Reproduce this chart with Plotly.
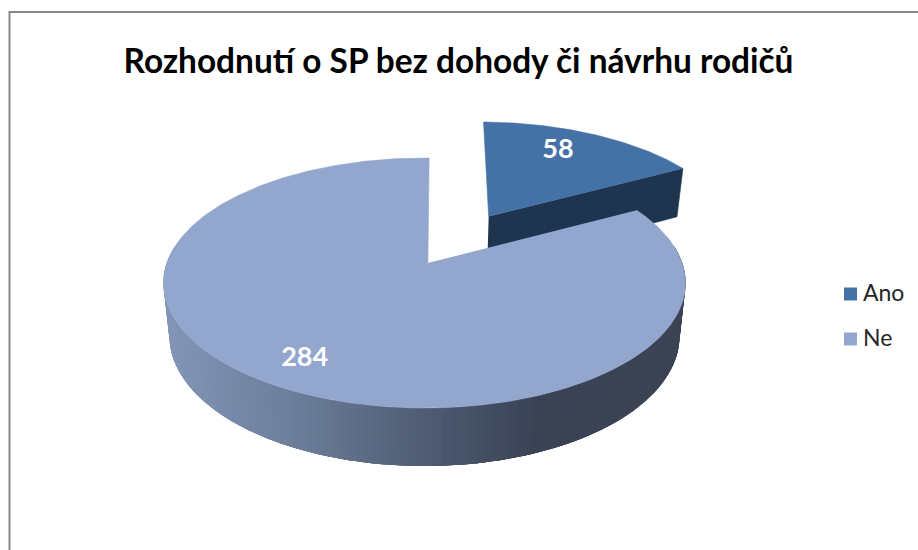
import numpy as np
import plotly.graph_objects as go

categories = ["Ano", "Ne"]
values = [58, 284]
title_text = "Rozhodnutí o SP bez dohody či návrhu rodičů"
top_colors = ["#4471A6", "#93A7CE"]
ano_side_color = "#1F344F"
side_stops_x = [165, 300, 450, 540, 690]
side_stops_rgb = [(130, 150, 183), (107, 125, 153), (74, 86, 108), (58, 67, 85), (60, 68, 86)]

W, H = 918, 550
K = 0.16
TOP = dict(cx=424.5, cy=283.0, a=261.0, b=125.0)
BOT = dict(cx=424.5, cy=336.0, a=255.0, b=130.0)
APEX_SHIFT = 0.005
EXPLODE = 0.495
START_DEG = 88.8


def project(u, v, lv):
    u, v = np.asarray(u, float), np.asarray(v, float)
    den = 1 + K * v
    return lv["cx"] + lv["a"] * u * np.sqrt(1 - K * K) / den, lv["cy"] - lv["b"] * (v + K) / den


total = sum(values)
sweep = [360.0 * x / total for x in values]
# Ano runs clockwise from the start angle, Ne takes the remainder.
ano_a = np.radians(np.linspace(START_DEG, START_DEG - sweep[0], 120))
ne_a = np.radians(np.linspace(START_DEG, START_DEG + sweep[1], 500))
ano_mid = np.radians(START_DEG - sweep[0] / 2)
ne_mid = np.radians(START_DEG + sweep[1] / 2)
ox, oy = EXPLODE * np.cos(ano_mid), EXPLODE * np.sin(ano_mid)

fig = go.Figure()


def poly(x, y, color, name=None, lw=0.6):
    fig.add_trace(go.Scatter(x=x, y=y, mode="lines", fill="toself", fillcolor=color,
                             line=dict(color=color, width=lw), hoverinfo="skip",
                             name=name or "", showlegend=False))


# Ano: cut face
ax0, ay0 = project([ox + APEX_SHIFT], [oy - 0.015], TOP)
ax1, ay1 = project([ox + np.cos(ano_a[-1])], [oy + np.sin(ano_a[-1])], TOP)
bx0, by0 = project([ox + APEX_SHIFT], [oy - 0.015], BOT)
bx1, by1 = project([ox + np.cos(ano_a[-1])], [oy + np.sin(ano_a[-1])], BOT)
poly(list(ax0) + list(ax1) + list(bx1) + list(bx0), list(ay0) + list(ay1) + list(by1) + list(by0), ano_side_color)

# Ano: top
rx, ry = project(ox + np.cos(ano_a), oy + np.sin(ano_a), TOP)
poly(list(ax0) + list(rx), list(ay0) + list(ry), top_colors[0], categories[0])

# Ne: gradient rim; each quad reaches far past the next one, so that no seams show
rim = np.radians(np.linspace(172, 368, 121))
tx, ty = project(np.cos(rim), np.sin(rim), TOP)
ux, uy = project(np.cos(rim), np.sin(rim), BOT)
for i in range(len(rim) - 1):
    j = min(i + 4, len(rim) - 1)
    xm = (tx[i] + tx[i + 1]) / 2
    c = [int(np.interp(xm, side_stops_x, [s[n] for s in side_stops_rgb])) for n in range(3)]
    fig.add_trace(go.Scatter(x=list(tx[i:j + 1]) + list(ux[i:j + 1][::-1]),
                             y=list(ty[i:j + 1]) + list(uy[i:j + 1][::-1]),
                             mode="none", fill="toself", fillcolor=f"rgb({c[0]},{c[1]},{c[2]})",
                             hoverinfo="skip", showlegend=False))

# Ne: top
nx, ny = project(np.cos(ne_a), np.sin(ne_a), TOP)
cx0, cy0 = project([0.013], [0.0], TOP)
poly(list(cx0) + list(nx), list(cy0) + list(ny), top_colors[1], categories[1])

# Value labels
l1x, l1y = project([ox + 0.66 * np.cos(ano_mid)], [oy + 0.77 * np.sin(ano_mid)], TOP)
l2x, l2y = project([0.785 * np.cos(ne_mid)], [0.825 * np.sin(ne_mid)], TOP)
fig.add_trace(go.Scatter(x=[l1x[0], l2x[0]], y=[l1y[0], l2y[0]], mode="text",
                         text=[str(v) for v in values], hoverinfo="skip", showlegend=False,
                         textfont=dict(family="Lato", size=27, color="white", weight="bold")))

# Legend
for name, color, ly in zip(categories, top_colors, [294, 339]):
    fig.add_trace(go.Scatter(x=[850.5], y=[ly], mode="markers", showlegend=False, hoverinfo="skip",
                             marker=dict(symbol="square", size=13, color=color)))
    fig.add_trace(go.Scatter(x=[863], y=[ly + 1], mode="text", text=[name], textposition="middle right",
                             showlegend=False, hoverinfo="skip",
                             textfont=dict(family="Lato", size=23, color="#262626")))

fig.update_layout(
    width=W, height=H, autosize=False, margin=dict(l=0, r=0, t=0, b=0),
    paper_bgcolor="white", plot_bgcolor="white", showlegend=False,
    xaxis=dict(range=[0, W], visible=False, fixedrange=True),
    yaxis=dict(range=[H, 0], visible=False, fixedrange=True),
    title=dict(text=f"<b>{title_text}</b>", x=458.5 / W, xanchor="center", xref="container",
               y=1 - 61 / H, yanchor="middle", yref="container",
               font=dict(family="Lato", size=33.4, color="black")),
    shapes=[dict(type="rect", xref="x", yref="y", x0=9.5, y0=12, x1=W + 20, y1=H + 20,
                 line=dict(color="#868686", width=2), fillcolor="rgba(0,0,0,0)", layer="below")],
)
fig.write_html("out.html", config=dict(displayModeBar=False),
               post_script="document.body.style.margin='0';document.body.style.overflow='hidden';")
